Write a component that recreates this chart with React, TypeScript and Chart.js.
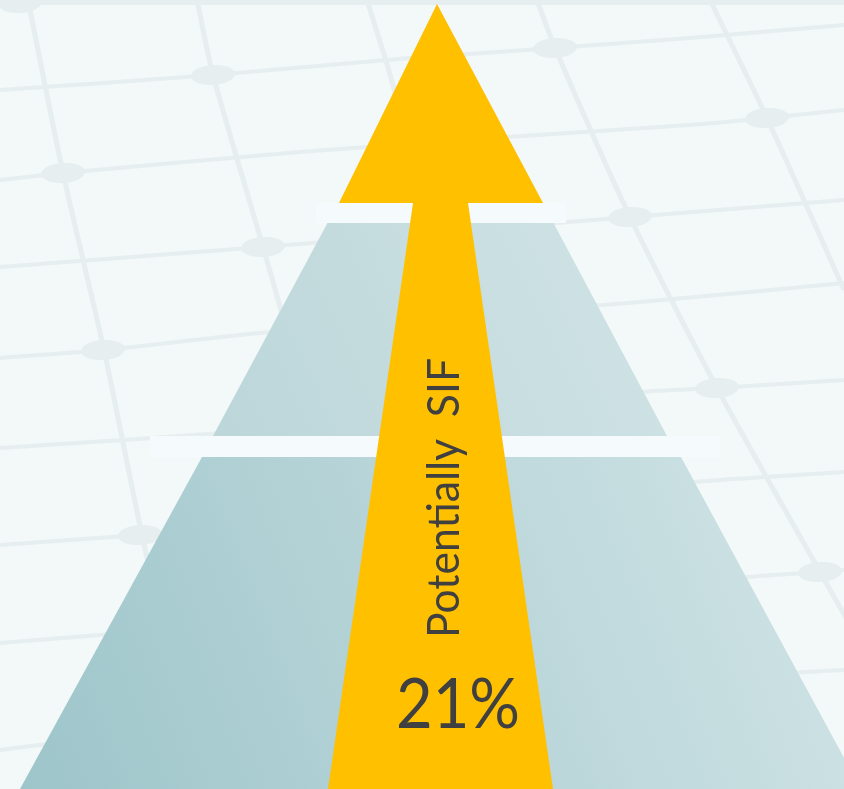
import React, { useEffect, useRef } from "react";
import { Chart, registerables } from "chart.js";

Chart.register(...registerables);

// ---------------- data ----------------
const LABEL = "Potentially  SIF";
const SHARE = 21; // percent shown at the foot of the arrow

// background perspective mesh: polylines as [x, y] vertices (canvas units)
const meshH1 = [[0, 2], [844, 2]];
const meshV1 = [[28, 0], [63, 173], [104, 350], [142, 535], [185, 720], [205, 789]];
const meshV2 = [[197, 0], [213, 75], [263, 247], [312, 420], [360, 600]];
const meshV3 = [[367, 0], [393, 85], [420, 200]];
const meshV4 = [[537, 0], [555, 48], [630, 217], [717, 388], [820, 572], [870, 660]];
const meshV5 = [[710, 0], [767, 118], [844, 290], [880, 370]];
const meshH2 = [[0, 90], [213, 75], [410, 58], [555, 48], [690, 38], [844, 25]];
const meshH3 = [[0, 180], [63, 173], [300, 152], [507, 137], [690, 125], [767, 118], [844, 110]];
const meshH4 = [[0, 267], [263, 247], [630, 217], [844, 200]];
const meshH5 = [[0, 358], [103, 350], [260, 333], [640, 302], [844, 283]];
const meshH6 = [[0, 448], [260, 430], [640, 392], [717, 388], [844, 380]];
const meshH7 = [[0, 545], [140, 535], [180, 531], [693, 482], [844, 472]];
const meshH8 = [[0, 643], [100, 635], [747, 577], [820, 572], [844, 570]];
const meshH9 = [[0, 750], [40, 745], [793, 673], [844, 670]];
const meshNodes = [
  [20, 3], [213, 75], [555, 48], [63, 173], [767, 118], [263, 247],
  [630, 217], [103, 350], [717, 388], [140, 535], [820, 572],
];

// pyramid tiers, separators and the arrow (polygon vertices)
const tierBottom = [[20, 789], [202, 457], [681, 457], [861, 789]];
const tierMiddle = [[213, 436], [328, 222], [553, 222], [667, 436]];
const bandLower = [[150, 436], [720, 436], [720, 457], [150, 457]];
const bandUpper = [[316, 203], [566, 203], [566, 223], [316, 223]];
const arrow = [[437, 4], [543, 203], [468, 203], [553, 789], [328, 789], [413, 203], [339, 203]];

// ---------------- helpers ----------------
const W = 844;
const H = 789;
const toXY = (pts: number[][]) => pts.map(([x, y]) => ({ x, y }));

const MESH_COLOR = "#e6eeef";
const BG_COLOR = "#f3f8f9";

function makeNodeImage() {
  const c = document.createElement("canvas");
  c.width = 46;
  c.height = 22;
  const g = c.getContext("2d")!;
  g.fillStyle = MESH_COLOR;
  g.beginPath();
  g.ellipse(23, 11, 22, 10, -0.06, 0, Math.PI * 2);
  g.fill();
  return c;
}

function gradientFill(c0: string, c1: string) {
  return (ctx: any) => {
    const chart = ctx.chart;
    if (!chart.chartArea) return c0;
    const data = ctx.dataset.data as { x: number; y: number }[];
    const xs = data.map((p) => p.x);
    const ys = data.map((p) => p.y);
    const sx = chart.scales.x;
    const sy = chart.scales.y;
    const g = chart.ctx.createLinearGradient(
      sx.getPixelForValue(Math.min(...xs)),
      sy.getPixelForValue(Math.max(...ys)),
      sx.getPixelForValue(Math.max(...xs)),
      sy.getPixelForValue(Math.min(...ys))
    );
    g.addColorStop(0, c0);
    g.addColorStop(1, c1);
    return g;
  };
}

const bgPlugin = {
  id: "bg",
  beforeDraw(chart: any) {
    const { ctx, width, height } = chart;
    ctx.save();
    ctx.fillStyle = BG_COLOR;
    ctx.fillRect(0, 0, width, height);
    ctx.restore();
  },
};

const textPlugin = {
  id: "labels",
  afterDatasetsDraw(chart: any) {
    const { ctx } = chart;
    const sx = chart.scales.x;
    const sy = chart.scales.y;
    ctx.save();
    ctx.fillStyle = "#404040";
    ctx.textAlign = "center";
    ctx.textBaseline = "alphabetic";

    // rotated label inside the arrow shaft
    ctx.save();
    ctx.font = '44px Lato, "Open Sans", sans-serif';
    const lw = ctx.measureText(LABEL).width;
    ctx.translate(sx.getPixelForValue(459), sy.getPixelForValue(498));
    ctx.rotate(-Math.PI / 2);
    ctx.scale(280 / lw, 1);
    ctx.fillText(LABEL, 0, 0);
    ctx.restore();

    // percentage
    ctx.save();
    const txt = `${SHARE}%`;
    ctx.font = '70px Lato, "Open Sans", sans-serif';
    const vw = ctx.measureText(txt).width;
    ctx.translate(sx.getPixelForValue(458), sy.getPixelForValue(728));
    ctx.scale(124 / vw, 1);
    ctx.fillText(txt, 0, 0);
    ctx.restore();

    ctx.restore();
  },
};

export default function App() {
  const ref = useRef<HTMLCanvasElement | null>(null);

  useEffect(() => {
    document.body.style.margin = "0";
    const canvas = ref.current;
    if (!canvas) return;

    const meshLine = (pts: number[][], order: number, width = 5) => ({
      data: toXY(pts),
      showLine: true,
      fill: false,
      borderColor: MESH_COLOR,
      borderWidth: width,
      pointRadius: 0,
      tension: 0.25,
      order,
    });

    const polygon = (pts: number[][], color: any, order: number) => ({
      data: toXY(pts),
      showLine: true,
      fill: "shape",
      backgroundColor: color,
      borderColor: "rgba(0,0,0,0)",
      borderWidth: 0,
      pointRadius: 0,
      tension: 0,
      order,
    });

    const nodeImg = makeNodeImage();

    const datasets: any[] = [
      polygon(arrow, "#ffc000", 1),
      polygon(bandUpper, "#f5fafc", 2),
      polygon(bandLower, "#f5fafc", 2),
      polygon(tierMiddle, gradientFill("#bcd6d9", "#d1e4e6"), 3),
      polygon(tierBottom, gradientFill("#9dc5ca", "#d3e5e7"), 3),
      {
        data: toXY(meshNodes),
        showLine: false,
        pointStyle: nodeImg,
        pointRadius: 12,
        order: 8,
      },
      ...[meshV1, meshV2, meshV3, meshV4, meshV5].map((p) => meshLine(p, 9)),
      ...[meshH2, meshH3, meshH4, meshH5, meshH6, meshH7, meshH8, meshH9].map((p) =>
        meshLine(p, 9, 4)
      ),
      meshLine(meshH1, 9, 6),
    ];

    const chart = new Chart(canvas, {
      type: "scatter",
      data: { datasets },
      options: {
        animation: false,
        responsive: false,
        events: [],
        layout: { padding: 0, autoPadding: false },
        plugins: {
          legend: { display: false },
          tooltip: { enabled: false },
          title: { display: false },
        },
        scales: {
          x: { type: "linear", min: 0, max: W, display: false },
          y: { type: "linear", min: 0, max: H, reverse: true, display: false },
        },
      },
      plugins: [bgPlugin, textPlugin],
    });

    return () => chart.destroy();
  }, []);

  return (
    <div style={{ position: "fixed", left: 0, top: 0, width: W, height: H }}>
      <canvas ref={ref} width={W} height={H} style={{ display: "block" }} />
    </div>
  );
}
